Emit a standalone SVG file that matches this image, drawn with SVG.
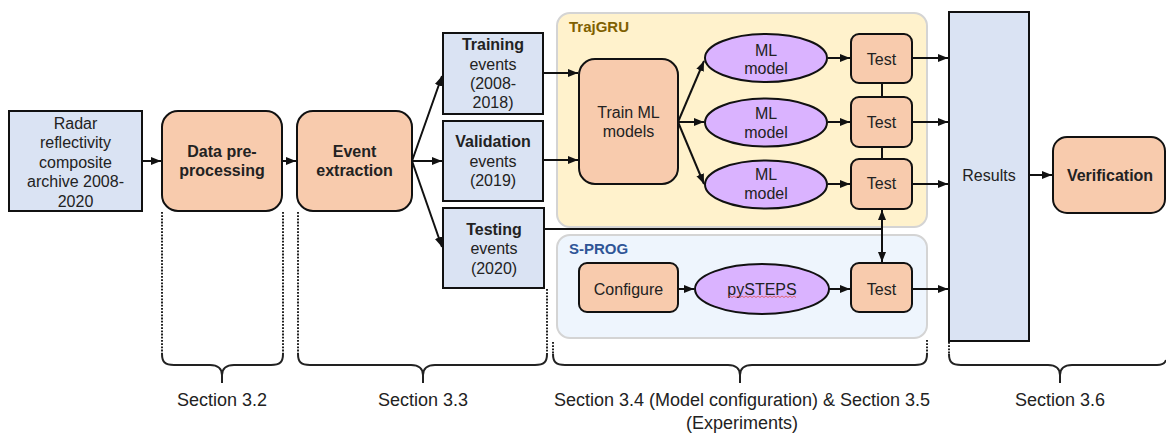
<svg xmlns="http://www.w3.org/2000/svg" width="1166" height="433" viewBox="0 0 1166 433">
<style>
text{font-family:"Liberation Sans",Arial,sans-serif;font-size:16px;fill:#222;text-anchor:middle}
.b{font-weight:bold}
.sec{font-size:18px}
.blue{fill:#dae3f3;stroke:#111;stroke-width:2}
.org{fill:#f8cbad;stroke:#111;stroke-width:2}
.ell{fill:#dab3ff;stroke:#111;stroke-width:2}
.ln{fill:none;stroke:#111;stroke-width:2}
.dot{fill:none;stroke:#222;stroke-width:2;stroke-dasharray:1.8 1.4}
.brace{fill:none;stroke:#222;stroke-width:2}
</style>
<defs>
<marker id="ah" viewBox="0 0 10 10" refX="10" refY="5" markerWidth="10" markerHeight="10" markerUnits="userSpaceOnUse" orient="auto-start-reverse">
<path d="M0,1 L10,5 L0,9 Z" fill="#111"/>
</marker>
</defs>
<g id="trajgru">
<rect x="557" y="13" width="370" height="214" rx="13" fill="#fff2cc" stroke="#d4d4d4" stroke-width="2"/>
<text x="569" y="32" class="b" style="font-size:15px;text-anchor:start;fill:#7f6000">TrajGRU</text>
</g>
<g id="sprog">
<rect x="557" y="235" width="370" height="103" rx="13" fill="#eef5fd" stroke="#d4d4d4" stroke-width="2"/>
<text x="569" y="254" class="b" style="font-size:15px;text-anchor:start;fill:#2f5597">S-PROG</text>
</g>
<g id="connectors">
<line class="ln" x1="142" y1="161" x2="161" y2="161" marker-end="url(#ah)"/>
<line class="ln" x1="282" y1="161" x2="296" y2="161" marker-end="url(#ah)"/>
<line class="ln" x1="412" y1="161" x2="442" y2="76" marker-end="url(#ah)"/>
<line class="ln" x1="412" y1="161" x2="442" y2="161" marker-end="url(#ah)"/>
<line class="ln" x1="412" y1="161" x2="442" y2="247" marker-end="url(#ah)"/>
<line class="ln" x1="543" y1="73" x2="578" y2="73" marker-end="url(#ah)"/>
<line class="ln" x1="543" y1="160" x2="578" y2="160" marker-end="url(#ah)"/>
<polyline class="ln" points="544,229 882,229"/>
<line class="ln" x1="882" y1="229" x2="882" y2="210" marker-end="url(#ah)"/>
<line class="ln" x1="882" y1="229" x2="882" y2="262" marker-end="url(#ah)"/>
<line class="ln" x1="678" y1="122" x2="704" y2="61" marker-end="url(#ah)"/>
<line class="ln" x1="678" y1="122" x2="704" y2="122" marker-end="url(#ah)"/>
<line class="ln" x1="678" y1="122" x2="704" y2="184" marker-end="url(#ah)"/>
<line class="ln" x1="828" y1="58" x2="850" y2="58" marker-end="url(#ah)"/>
<line class="ln" x1="828" y1="122" x2="850" y2="122" marker-end="url(#ah)"/>
<line class="ln" x1="828" y1="184" x2="850" y2="184" marker-end="url(#ah)"/>
<line class="ln" x1="882" y1="83" x2="882" y2="97"/>
<line class="ln" x1="882" y1="147" x2="882" y2="159"/>
<line class="ln" x1="912" y1="58" x2="948" y2="58" marker-end="url(#ah)"/>
<line class="ln" x1="912" y1="122" x2="948" y2="122" marker-end="url(#ah)"/>
<line class="ln" x1="912" y1="184" x2="948" y2="184" marker-end="url(#ah)"/>
<line class="ln" x1="678" y1="289" x2="694" y2="289" marker-end="url(#ah)"/>
<line class="ln" x1="829" y1="289" x2="850" y2="289" marker-end="url(#ah)"/>
<line class="ln" x1="912" y1="289" x2="948" y2="289" marker-end="url(#ah)"/>
<line class="ln" x1="1029" y1="175" x2="1052" y2="175" marker-end="url(#ah)"/>
</g>
<g id="radar">
<rect class="blue" x="9" y="111" width="133" height="100"/>
<text x="75.5" y="128.5">Radar</text>
<text x="75.5" y="148">reflectivity</text>
<text x="75.5" y="167.5">composite</text>
<text x="75.5" y="187">archive 2008-</text>
<text x="75.5" y="206.5">2020</text>
</g>
<g id="preprocessing">
<rect class="org" x="162" y="111" width="120" height="100" rx="16"/>
<text class="b" x="222" y="157">Data pre-</text>
<text class="b" x="222" y="176">processing</text>
</g>
<g id="extraction">
<rect class="org" x="297" y="111" width="115" height="100" rx="16"/>
<text class="b" x="354.5" y="157">Event</text>
<text class="b" x="354.5" y="176">extraction</text>
</g>
<g id="training">
<rect class="blue" x="443" y="33" width="100" height="81"/>
<text class="b" x="493" y="50">Training</text>
<text x="493" y="69.5">events</text>
<text x="493" y="89">(2008-</text>
<text x="493" y="108">2018)</text>
</g>
<g id="validation">
<rect class="blue" x="443" y="121" width="100" height="80"/>
<text class="b" x="493" y="147">Validation</text>
<text x="493" y="166.5">events</text>
<text x="493" y="186">(2019)</text>
</g>
<g id="testing">
<rect class="blue" x="443" y="208" width="101" height="80"/>
<text class="b" x="494" y="234.5">Testing</text>
<text x="494" y="254">events</text>
<text x="494" y="273.5">(2020)</text>
</g>
<g id="train">
<rect class="org" x="579" y="59" width="99" height="125" rx="16"/>
<text x="628.5" y="118">Train ML</text>
<text x="628.5" y="137">models</text>
</g>
<g id="model1">
<ellipse class="ell" cx="766" cy="58" rx="61" ry="24"/>
<text x="766" y="55.5">ML</text>
<text x="766" y="74">model</text>
</g>
<g id="model2">
<ellipse class="ell" cx="766" cy="122.5" rx="61" ry="24"/>
<text x="766" y="118.5">ML</text>
<text x="766" y="137.5">model</text>
</g>
<g id="model3">
<ellipse class="ell" cx="766" cy="184.5" rx="61" ry="24"/>
<text x="766" y="180">ML</text>
<text x="766" y="199">model</text>
</g>
<g id="test1">
<rect class="org" x="851" y="34" width="61" height="49" rx="8"/>
<text x="881.5" y="64.5">Test</text>
</g>
<g id="test2">
<rect class="org" x="851" y="97" width="61" height="50" rx="8"/>
<text x="881.5" y="127.5">Test</text>
</g>
<g id="test3">
<rect class="org" x="851" y="159" width="61" height="50" rx="8"/>
<text x="881.5" y="189">Test</text>
</g>
<g id="configure">
<rect class="org" x="579" y="263" width="99" height="49" rx="8"/>
<text x="628.5" y="294.5">Configure</text>
</g>
<g id="pysteps">
<ellipse class="ell" cx="762" cy="289" rx="67" ry="25"/>
<text x="762" y="294.5">pySTEPS</text>
<path d="M728,297.5 l2,-1.5 l2,1.5 l2,-1.5 l2,1.5 l2,-1.5 l2,1.5 l2,-1.5 l2,1.5 l2,-1.5 l2,1.5 l2,-1.5 l2,1.5 l2,-1.5 l2,1.5 l2,-1.5 l2,1.5 l2,-1.5 l2,1.5 l2,-1.5 l2,1.5 l2,-1.5 l2,1.5 l2,-1.5 l2,1.5 l2,-1.5 l2,1.5 l2,-1.5 l2,1.5 l2,-1.5 l2,1.5 l2,-1.5 l2,1.5 l2,-1.5 l2,1.5" fill="none" stroke="#e05050" stroke-width="0.8"/>
</g>
<g id="test4">
<rect class="org" x="851" y="263" width="61" height="49" rx="8"/>
<text x="881.5" y="294.5">Test</text>
</g>
<g id="results">
<rect class="blue" x="949" y="12" width="80" height="329"/>
<text x="989" y="181">Results</text>
</g>
<g id="verification">
<rect class="org" x="1053" y="137" width="112" height="76" rx="14"/>
<text class="b" x="1110" y="181">Verification</text>
</g>
<g id="sections">
<line class="dot" x1="162" y1="212" x2="162" y2="354"/>
<line class="dot" x1="283" y1="212" x2="283" y2="354"/>
<line class="dot" x1="298" y1="212" x2="298" y2="354"/>
<line class="dot" x1="547" y1="289" x2="547" y2="354"/>
<line class="dot" x1="553" y1="342" x2="553" y2="354"/>
<line class="dot" x1="927" y1="340" x2="927" y2="354"/>
<line class="dot" x1="949" y1="342" x2="949" y2="354"/>
<path class="brace" d="M162,354 C162,362 165,365 174,365 H210 C218,365 222,369 222,375 V383 M283,354 C283,362 280,365 271,365 H234 C226,365 222,369 222,375"/>
<path class="brace" d="M298,354 C298,362 301,365 310,365 H411 C419,365 423,369 423,375 V383 M547,354 C547,362 544,365 535,365 H435 C427,365 423,369 423,375"/>
<path class="brace" d="M553,354 C553,362 556,365 565,365 H728 C736,365 740,369 740,375 V383 M927,354 C927,362 924,365 915,365 H752 C744,365 740,369 740,375"/>
<path class="brace" d="M949,354 C949,362 952,365 961,365 H1048 C1056,365 1060,369 1060,375 V383 M1166,360 C1165,363 1163,365 1157,365 H1072 C1064,365 1060,369 1060,375"/>
<text class="sec" x="222" y="406">Section 3.2</text>
<text class="sec" x="423" y="406">Section 3.3</text>
<text class="sec" x="742" y="406">Section 3.4 (Model configuration) &amp; Section 3.5</text>
<text class="sec" x="742" y="429">(Experiments)</text>
<text class="sec" x="1060" y="406">Section 3.6</text>
</g>
</svg>
